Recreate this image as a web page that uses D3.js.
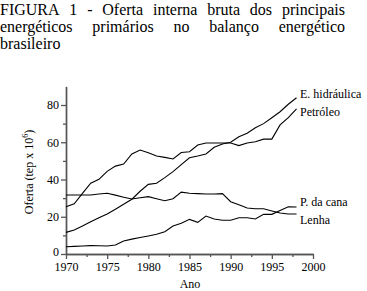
<!DOCTYPE html>
<html>
<head>
<meta charset="utf-8">
<script src="https://cdn.jsdelivr.net/npm/d3@7"></script>
<style>
  body { margin: 0; background: #fff; }
  svg { display: block; }
  svg text { font-family: "Liberation Serif", "Times New Roman", serif; }
</style>
</head>
<body>
<svg id="chart" width="367" height="291"></svg>
<script>
let years = d3.range(1970, 1999)

let hidraulica = [11.6, 12.9, 15, 17.3, 19.5, 21.5, 24, 26.7, 29.4, 33.7, 37.4, 38, 41, 44.2, 48, 51.7, 52.6, 53.7, 57.3, 59.1, 60, 63, 64.8, 67.8, 70, 73.2, 76.4, 80.4, 83.9]
let petroleo = [25.4, 27, 32.6, 38, 40.1, 44.4, 47.2, 48.3, 53.7, 55.8, 54.4, 52.6, 51.9, 51, 54.5, 54.9, 58.5, 59.6, 59.6, 59.6, 59.6, 58.2, 59.6, 60.3, 61.7, 61.7, 69.3, 73.2, 77.9]
let cana = [3.9, 4.1, 4.3, 4.5, 4.4, 4.3, 4.8, 7, 8, 8.9, 9.7, 10.6, 12, 15, 16.5, 18.6, 17, 20.4, 18.8, 18.1, 18.1, 19.5, 19.5, 18.8, 21.3, 21.3, 23.3, 25.4, 25.2]
let lenha = [31.7, 31.7, 31.7, 31.7, 32.2, 32.6, 31.6, 30.5, 29.5, 30.2, 30.8, 29.7, 28.6, 29.7, 33.2, 32.6, 32.4, 32.2, 32.2, 32.4, 28.1, 26.5, 24.7, 24.3, 24.3, 23.1, 22, 21.5, 21.5]

let seriesNames = ["E. hidráulica", "Petróleo", "P. da cana", "Lenha"]
let seriesValues = [hidraulica, petroleo, cana, lenha]

let xTicks = [1970, 1975, 1980, 1985, 1990, 1995, 2000]
let yTicks = [0, 20, 40, 60, 80]

let titleLines = [
    "FIGURA 1 - Oferta interna bruta dos principais",
    "energéticos primários no balanço energético",
    "brasileiro"
]

let svg = d3.select("#chart")

// title, justified like the original text block
let titleWidth = 345
titleLines.forEach((line, i) => {
    let words = line.split(" ")
    let g = svg.append("g")
    let nodes = words.map(w => g.append("text")
        .attr("y", 15 + i * 17)
        .style("font-family", "'Liberation Serif', 'Times New Roman', serif")
        .style("font-size", "16px")
        .text(w))
    let widths = nodes.map(n => n.node().getComputedTextLength())
    let last = i == titleLines.length - 1
    let gap = last ? 4 : (titleWidth - d3.sum(widths)) / (words.length - 1)
    let x = 0
    nodes.forEach((n, j) => {
        n.attr("x", x)
        x += widths[j] + gap
    })
})

let xScale = d3.scaleLinear()
    .domain([1970, 2000])
    .range([66, 313])

let yScale = d3.scaleLinear()
    .domain([0, 90])
    .range([254, 86.4])

// axes
let xAxis = svg.append("g")
    .attr("transform", `translate(0,${yScale(0)})`)
    .call(d3.axisBottom(xScale).tickValues(xTicks).tickFormat(d3.format("d")).tickSize(5).tickSizeOuter(0).tickPadding(3))

let xMinor = svg.append("g")
    .attr("transform", `translate(0,${yScale(0)})`)
    .call(d3.axisBottom(xScale).tickValues(d3.range(1972.5, 2000, 5)).tickFormat("").tickSize(3).tickSizeOuter(0))

let yAxis = svg.append("g")
    .attr("transform", `translate(${xScale(1970)},0)`)
    .call(d3.axisLeft(yScale).tickValues(yTicks).tickSize(5).tickSizeOuter(0).tickPadding(2))

let yMinor = svg.append("g")
    .attr("transform", `translate(${xScale(1970)},0)`)
    .call(d3.axisLeft(yScale).tickValues([10, 30, 50, 70]).tickFormat("").tickSize(3).tickSizeOuter(0))

svg.selectAll(".domain, .tick line")
    .attr("stroke", "#555")
    .attr("stroke-width", 1.3)

svg.selectAll(".tick text")
    .style("font-family", "'Liberation Serif', serif")
    .style("font-size", "12px")
    .attr("fill", "#000")

// lift the 0 label a touch so it clears 1970
yAxis.selectAll(".tick text").filter(d => d == 0).attr("y", -2)

xAxis.select(".domain").attr("stroke-width", 1.5)
yAxis.select(".domain").attr("stroke-width", 1.5)

// axis titles
svg.append("text")
    .attr("x", 190)
    .attr("y", 288)
    .attr("text-anchor", "middle")
    .style("font-size", "12px")
    .text("Ano")

let yTitle = svg.append("text")
    .attr("transform", "translate(33,172) rotate(-90)")
    .attr("text-anchor", "middle")
    .style("font-size", "12px")
yTitle.append("tspan").text("Oferta (tep x 10")
yTitle.append("tspan").attr("dy", -5).style("font-size", "8px").text("6")
yTitle.append("tspan").attr("dy", 5).text(")")

// lines
let line = d3.line()
    .x((d, i) => xScale(years[i]))
    .y(d => yScale(d))

svg.selectAll(".serie")
    .data(seriesValues)
    .enter()
    .append("path")
        .attr("class", "serie")
        .attr("d", d => line(d))
        .attr("fill", "none")
        .attr("stroke", "#000")
        .attr("stroke-width", 1.1)

// end labels
let labelY = [94, 112, 202, 220]
svg.selectAll(".label")
    .data(seriesNames)
    .enter()
    .append("text")
        .attr("class", "label")
        .attr("x", 300)
        .attr("y", (d, i) => labelY[i])
        .attr("dy", "0.35em")
        .style("font-size", "12px")
        .text(d => d)
</script>
</body>
</html>
